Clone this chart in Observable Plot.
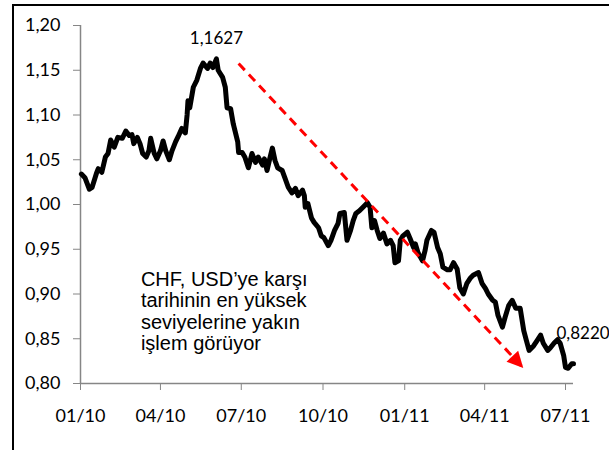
<!DOCTYPE html>
<html><head><meta charset="utf-8">
<script src="https://cdn.jsdelivr.net/npm/d3@7"></script>
<script src="https://cdn.jsdelivr.net/npm/@observablehq/plot@0.6"></script>
<style>
html,body{margin:0;padding:0;background:#fff;}
body{width:609px;height:450px;overflow:hidden;position:relative;}
#frame{position:absolute;left:12px;top:4px;width:700px;height:600px;border:2px solid #000;box-sizing:border-box;}
#chart{position:absolute;left:0;top:0;}
</style></head><body>
<div id="frame"></div>
<div id="chart"></div>
<script>
// USD/CHF series
const dates = [
"2010-01-02","2010-01-06","2010-01-11","2010-01-14","2010-01-19","2010-01-21","2010-01-25","2010-01-29",
"2010-02-01","2010-02-04","2010-02-08","2010-02-12","2010-02-17","2010-02-21","2010-02-25","2010-02-28",
"2010-03-02","2010-03-06","2010-03-09","2010-03-12","2010-03-16","2010-03-19","2010-03-21","2010-03-25","2010-03-28",
"2010-04-01","2010-04-04","2010-04-07","2010-04-11","2010-04-14","2010-04-18","2010-04-21","2010-04-25","2010-04-29",
"2010-05-01","2010-05-02","2010-05-04","2010-05-08","2010-05-12","2010-05-16","2010-05-19","2010-05-24","2010-05-27","2010-05-30",
"2010-06-03","2010-06-05","2010-06-10","2010-06-13","2010-06-15","2010-06-19","2010-06-22","2010-06-27","2010-06-28",
"2010-07-02","2010-07-05","2010-07-09","2010-07-13","2010-07-17","2010-07-20","2010-07-25","2010-07-27","2010-07-30",
"2010-08-02","2010-08-05","2010-08-08","2010-08-11","2010-08-16","2010-08-19","2010-08-23","2010-08-27","2010-08-31",
"2010-09-03","2010-09-08","2010-09-10","2010-09-11","2010-09-14","2010-09-18","2010-09-21","2010-09-26","2010-09-29",
"2010-10-02","2010-10-07","2010-10-10","2010-10-14","2010-10-18","2010-10-20","2010-10-25","2010-10-28",
"2010-11-01","2010-11-04","2010-11-07","2010-11-11","2010-11-15","2010-11-20","2010-11-23","2010-11-25","2010-11-28",
"2010-12-01","2010-12-04","2010-12-08","2010-12-12","2010-12-16","2010-12-19","2010-12-21","2010-12-25","2010-12-27","2010-12-30",
"2011-01-04","2011-01-07","2011-01-11","2011-01-13","2011-01-16","2011-01-21","2011-01-24","2011-01-26","2011-01-31",
"2011-02-03","2011-02-07","2011-02-10","2011-02-13","2011-02-18","2011-02-21","2011-02-25",
"2011-03-01","2011-03-04","2011-03-08","2011-03-12","2011-03-16","2011-03-19","2011-03-25","2011-03-29",
"2011-04-02","2011-04-05","2011-04-10","2011-04-13","2011-04-16","2011-04-21","2011-04-24","2011-04-28",
"2011-05-02","2011-05-06","2011-05-11","2011-05-15","2011-05-18","2011-05-21","2011-05-26","2011-05-30",
"2011-06-03","2011-06-06","2011-06-11","2011-06-14","2011-06-18","2011-06-22","2011-06-25","2011-06-29",
"2011-07-01","2011-07-04","2011-07-08","2011-07-10"
];
const rates = [
1.034,1.030,1.017,1.019,1.035,1.040,1.036,1.053,
1.057,1.072,1.064,1.075,1.074,1.082,1.077,1.078,
1.068,1.075,1.068,1.057,1.053,1.060,1.074,1.057,1.051,
1.060,1.071,1.060,1.050,1.060,1.070,1.076,1.085,1.080,
1.100,1.116,1.108,1.131,1.139,1.152,1.158,1.152,1.158,1.153,
1.1627,1.150,1.142,1.131,1.108,1.107,1.090,1.070,1.058,
1.058,1.053,1.041,1.057,1.047,1.053,1.044,1.051,1.038,
1.051,1.063,1.049,1.041,1.038,1.030,1.019,1.013,1.018,
1.010,1.016,1.010,0.997,1.001,0.985,0.980,0.974,0.965,
0.963,0.954,0.960,0.971,0.979,0.990,0.991,0.960,
0.971,0.982,0.990,0.993,0.997,1.002,0.997,0.974,0.982,
0.971,0.962,0.968,0.956,0.960,0.954,0.935,0.937,0.960,0.965,
0.969,0.962,0.952,0.956,0.946,0.937,0.949,0.960,0.971,
0.969,0.952,0.945,0.930,0.927,0.927,0.935,
0.928,0.907,0.900,0.912,0.918,0.921,0.924,0.912,
0.906,0.900,0.893,0.891,0.876,0.863,0.874,0.887,
0.893,0.884,0.884,0.859,0.848,0.837,0.842,0.848,
0.854,0.845,0.837,0.840,0.845,0.849,0.845,0.831,
0.818,0.817,0.822,0.822
];
const xDomain = ["2010-01-01","2011-07-10"];
const xTicks = ["2010-01-01","2010-04-01","2010-07-01","2010-10-01","2011-01-01","2011-04-01","2011-07-01"];
const yTicks = [0.80,0.85,0.90,0.95,1.00,1.05,1.10,1.15,1.20];
// trend arrow (start, end)
const arrowDates = ["2010-06-28","2011-05-15"];
const arrowValues = [1.1575,0.8168];
// value labels
const labelDates = ["2010-06-03","2011-07-10"];
const labelValues = [1.1627,0.822];
const labelTexts = ["1,1627","0,8220"];
// note
const noteDate = "2010-03-10";
const noteValue = 0.926;
const noteText = "CHF, USD’ye karşı\ntarihinin en yüksek\nseviyelerine yakın\nişlem görüyor";

const P = d => new Date(d + "T00:00:00Z");
const series = dates.map((d, i) => ({date: P(d), value: rates[i]}));
const arrow = [{x1: P(arrowDates[0]), y1: arrowValues[0], x2: P(arrowDates[1]), y2: arrowValues[1]}];
const labels = labelDates.map((d, i) => ({date: P(d), value: labelValues[i], text: labelTexts[i]}));
const fmt = d => d.toFixed(2).replace(".", ",");

function arrowHead(index, scales) {
  const a0 = arrow[0];
  const x1 = scales.x(a0.x1), y1 = scales.y(a0.y1), x2 = scales.x(a0.x2), y2 = scales.y(a0.y2);
  const a = Math.atan2(y2 - y1, x2 - x1);
  const L = 16, W = 8;
  const bx = x2 - L * Math.cos(a), by = y2 - L * Math.sin(a);
  const pts = [[x2, y2], [bx - W * Math.sin(a), by + W * Math.cos(a)], [bx + W * Math.sin(a), by - W * Math.cos(a)]];
  return d3.create("svg:path").attr("d", "M" + pts.map(p => p.join(",")).join("L") + "Z").attr("fill", "#ff0000").node();
}

const chart = Plot.plot({
  width: 609, height: 450,
  marginLeft: 80, marginRight: 36, marginTop: 25, marginBottom: 67,
  style: {fontFamily: "Lato, 'Open Sans', sans-serif", fontSize: "18px", background: "transparent", color: "#000"},
  x: {type: "utc", domain: xDomain.map(P)},
  y: {domain: [0.80, 1.20]},
  marks: [
    Plot.ruleY([0.80], {stroke: "#868686", strokeWidth: 1.5}),
    Plot.ruleX([P(xDomain[0])], {stroke: "#868686", strokeWidth: 1.5}),
    Plot.axisX({ticks: xTicks.map(P), tickFormat: d3.utcFormat("%m/%y"), tickSize: 7, tickPadding: 19, stroke: "#868686", fill: "#000", label: null, fontSize: 18}),
    Plot.axisY({ticks: yTicks, tickFormat: fmt, tickSize: 7, tickPadding: 13, stroke: "#868686", fill: "#000", label: null, fontSize: 18}),
    Plot.line(series, {x: "date", y: "value", stroke: "#000", strokeWidth: 5, strokeLinejoin: "round", strokeLinecap: "round"}),
    Plot.link(arrow, {x1: "x1", y1: "y1", x2: "x2", y2: "y2", stroke: "#ff0000", strokeWidth: 3, strokeDasharray: "9,6"}),
    arrowHead,
    Plot.text([labels[0]], {x: "date", y: "value", text: "text", dy: -20, fontSize: 17, fill: "#000"}),
    Plot.text([labels[1]], {x: "date", y: "value", text: "text", dx: -17, dy: -30, textAnchor: "start", fontSize: 17, fill: "#000"}),
    Plot.text([noteText], {x: () => P(noteDate), y: () => noteValue, text: d => d, textAnchor: "start", lineAnchor: "top", fontSize: 20, lineHeight: 1.075, fontFamily: "'Liberation Sans', Arial, sans-serif", fill: "#000"})
  ]
});
document.getElementById("chart").appendChild(chart);
</script>
</body></html>
